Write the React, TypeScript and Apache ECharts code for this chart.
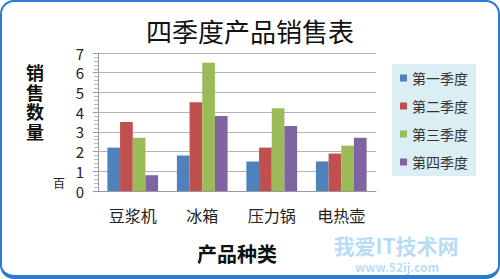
import React, { useEffect, useRef } from "react";
import * as echarts from "echarts";

const categories = ["豆浆机", "冰箱", "压力锅", "电热壶"];
const seriesNames = ["第一季度", "第二季度", "第三季度", "第四季度"];
const q1 = [2.2, 1.8, 1.5, 1.5];
const q2 = [3.5, 4.5, 2.2, 1.9];
const q3 = [2.7, 6.5, 4.2, 2.3];
const q4 = [0.8, 3.8, 3.3, 2.7];
const colors = ["#4F81BD", "#C0504D", "#9BBB59", "#8064A2"];
const yTicks = [0, 1, 2, 3, 4, 5, 6, 7];
const yAxisNameChars = ["销", "售", "数", "量"];

const FONT = "'Noto Sans CJK SC', 'Noto Sans', sans-serif";

export default function App() {
  const ref = useRef<HTMLDivElement>(null);
  useEffect(() => {
    if (!ref.current) return;
    const chart = echarts.init(ref.current, undefined, { renderer: "svg" });
    const values = [q1, q2, q3, q4];
    chart.setOption({
      animation: false,
      textStyle: { fontFamily: FONT },
      title: {
        text: "四季度产品销售表",
        left: "center",
        top: 12,
        textStyle: { fontFamily: FONT, fontSize: 26, fontWeight: "normal", color: "#111" },
      },
      legend: {
        orient: "vertical",
        left: 392,
        top: 64,
        backgroundColor: "#dbeef4",
        padding: [7, 8, 7, 8],
        itemWidth: 7,
        itemHeight: 7,
        itemGap: 14,
        icon: "rect",
        textStyle: { fontFamily: FONT, fontSize: 14, color: "#333", padding: [0, 0, 0, 0] },
        data: seriesNames,
      },
      grid: { left: 98, top: 53, width: 278, height: 138, containLabel: false },
      xAxis: {
        type: "category",
        data: categories,
        axisLine: { lineStyle: { color: "#999" } },
        axisTick: { show: false },
        axisLabel: { fontFamily: FONT, fontSize: 16, color: "#222", margin: 16 },
      },
      yAxis: {
        type: "value",
        min: yTicks[0],
        max: yTicks[yTicks.length - 1],
        interval: 1,
        axisLine: { show: true, lineStyle: { color: "#999" } },
        axisTick: { show: true, length: 5, lineStyle: { color: "#999" } },
        minorTick: { show: true, splitNumber: 5, length: 4, lineStyle: { color: "#bbb" } },
        splitLine: { show: true, lineStyle: { color: "#b3b3b3" } },
        axisLabel: { fontFamily: FONT, fontSize: 15, color: "#222", margin: 14 },
      },
      series: seriesNames.map((name, i) => ({
        name,
        type: "bar",
        data: values[i],
        barGap: "0%",
        barCategoryGap: "27%",
        itemStyle: { color: colors[i] },
      })),
      graphic: [
        ...yAxisNameChars.map((ch, i) => ({
          type: "text",
          x: 35,
          y: 72 + i * 19.5,
          style: {
            text: ch,
            font: `bold 18px ${FONT}`,
            fill: "#111",
            align: "center",
            verticalAlign: "middle",
          },
        })),
        {
          type: "text",
          x: 59,
          y: 182,
          style: {
            text: "百",
            font: `12px ${FONT}`,
            fill: "#222",
            align: "center",
            verticalAlign: "middle",
          },
        },
        {
          type: "text",
          x: 237,
          y: 253,
          style: {
            text: "产品种类",
            font: `bold 20px ${FONT}`,
            fill: "#111",
            align: "center",
            verticalAlign: "middle",
          },
        },
        {
          type: "text",
          x: 396,
          y: 245,
          style: {
            text: "我爱IT技术网",
            font: `bold 21px ${FONT}`,
            fill: "rgba(120,190,240,0.55)",
            align: "center",
            verticalAlign: "middle",
          },
        },
        {
          type: "text",
          x: 397,
          y: 266,
          style: {
            text: "www.52ij.com",
            font: `bold 12px ${FONT}`,
            fill: "rgba(120,190,240,0.55)",
            align: "center",
            verticalAlign: "middle",
          },
        },
      ],
    });
    return () => chart.dispose();
  }, []);
  return (
    <div
      style={{
        position: "fixed",
        left: 0,
        top: 0,
        width: 500,
        height: 279,
        background: "#fff",
      }}
    >
      <div
        style={{
          position: "absolute",
          left: 0,
          top: 0,
          width: 500,
          height: 279,
          boxSizing: "border-box",
          border: "2px solid #2b7bd0",
          borderBottomWidth: 4,
          borderRadius: 14,
        }}
      />
      <div ref={ref} style={{ position: "absolute", left: 0, top: 0, width: 500, height: 279 }} />
    </div>
  );
}
